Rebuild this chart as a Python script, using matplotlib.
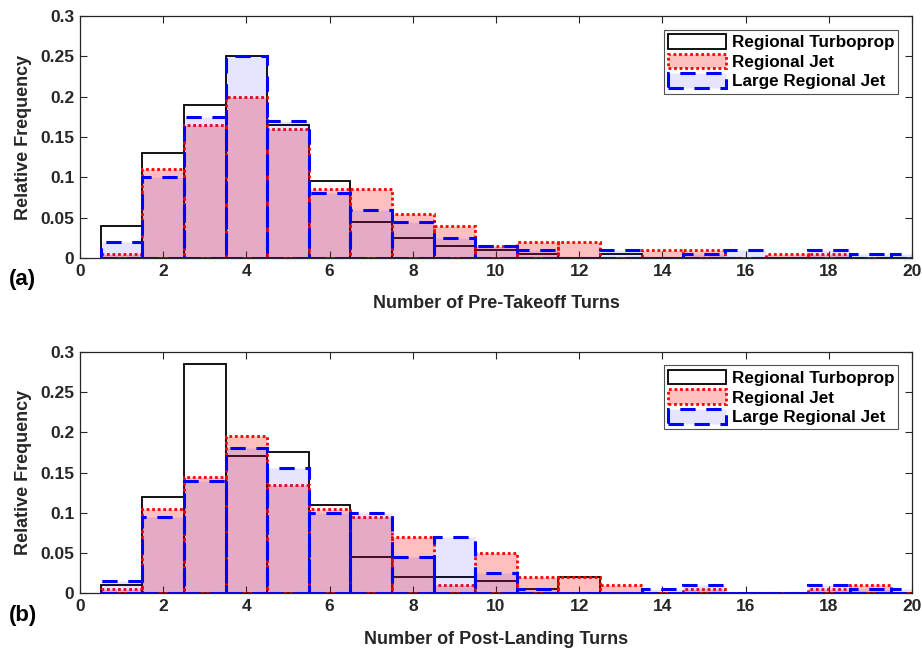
import numpy as np
import matplotlib
matplotlib.use("Agg")
import matplotlib.pyplot as plt
from matplotlib.ticker import FormatStrFormatter

plt.rcParams['font.family'] = ['Liberation Sans', 'DejaVu Sans']
plt.rcParams['font.weight'] = 'bold'

# ---------------- data ----------------
turns = np.arange(1, 21)
series_names = ["Regional Turboprop", "Regional Jet", "Large Regional Jet"]

# pre-takeoff turns (a)
pre_turboprop = [0.040, 0.130, 0.190, 0.250, 0.165, 0.095, 0.045, 0.025, 0.015, 0.010,
                 0.005, 0.000, 0.005, 0.000, 0.000, 0.000, 0.000, 0.000, 0.000, 0.000]
pre_rj = [0.005, 0.110, 0.165, 0.200, 0.160, 0.085, 0.085, 0.055, 0.040, 0.015,
          0.020, 0.020, 0.000, 0.010, 0.010, 0.000, 0.005, 0.005, 0.000, 0.000]
pre_lrj = [0.020, 0.100, 0.175, 0.250, 0.170, 0.080, 0.060, 0.045, 0.025, 0.015,
           0.010, 0.000, 0.010, 0.000, 0.005, 0.010, 0.000, 0.010, 0.005, 0.005]

# post-landing turns (b)
post_turboprop = [0.010, 0.120, 0.285, 0.170, 0.175, 0.110, 0.045, 0.020, 0.020, 0.015,
                  0.005, 0.020, 0.000, 0.000, 0.000, 0.000, 0.000, 0.000, 0.000, 0.000]
post_rj = [0.005, 0.105, 0.145, 0.195, 0.135, 0.105, 0.095, 0.070, 0.010, 0.050,
           0.020, 0.020, 0.010, 0.000, 0.005, 0.000, 0.000, 0.005, 0.010, 0.000]
post_lrj = [0.015, 0.095, 0.140, 0.180, 0.155, 0.100, 0.100, 0.045, 0.070, 0.025,
            0.005, 0.000, 0.000, 0.005, 0.010, 0.000, 0.000, 0.010, 0.005, 0.005]

xlabels = ["Number of Pre-Takeoff Turns", "Number of Post-Landing Turns"]
panel_tags = ["(a)", "(b)"]

ax_color = "#262626"

fig = plt.figure(figsize=(9.22, 6.48), dpi=100)
ax_top = fig.add_axes([0.0868, 0.6019, 0.9024, 0.3735])
ax_bot = fig.add_axes([0.0868, 0.0844, 0.9024, 0.3728])

panels = [(ax_top, pre_turboprop, pre_rj, pre_lrj),
          (ax_bot, post_turboprop, post_rj, post_lrj)]

for i, (ax, tp, rj, lrj) in enumerate(panels):
    ax.bar(turns, tp, width=1.0, facecolor="none", edgecolor="black",
           linewidth=1.3, label=series_names[0], zorder=1)
    ax.bar(turns, rj, width=1.0, facecolor=(1, 0, 0, 0.25), edgecolor="red",
           linewidth=2.0, linestyle=(0, (1, 1)), label=series_names[1], zorder=2)
    ax.bar(turns, lrj, width=1.0, facecolor=(0, 0, 1, 0.1), edgecolor="blue",
           linewidth=2.2, linestyle=(0, (5, 3.5)), label=series_names[2], zorder=3)

    ax.set_xlim(0, 20)
    ax.set_ylim(0, 0.3)
    ax.set_xticks(np.arange(0, 21, 2))
    ax.set_yticks(np.arange(0, 0.31, 0.05))
    ax.yaxis.set_major_formatter(FormatStrFormatter('%g'))
    ax.tick_params(direction="in", top=True, right=True, length=5,
                   labelsize=12.5, colors=ax_color, pad=4)
    for sp in ax.spines.values():
        sp.set_color(ax_color)
        sp.set_linewidth(0.9)
        sp.set_zorder(5)
    ax.set_ylabel("Relative Frequency", fontsize=13, fontweight="bold",
                  color=ax_color, labelpad=6)
    ax.set_xlabel(xlabels[i], fontsize=13, fontweight="bold",
                  color=ax_color, labelpad=12)
    leg = ax.legend(loc="upper right", fontsize=12.3, frameon=True, fancybox=False,
                    edgecolor="#262626", borderpad=0.25, labelspacing=0.2,
                    handlelength=3.4, handleheight=0.95, handletextpad=0.3,
                    borderaxespad=0.8)
    leg.get_frame().set_linewidth(0.8)
    for t in leg.get_texts():
        t.set_color("black")
        t.set_fontweight("bold")
    ax.text(-0.085, -0.09, panel_tags[i], transform=ax.transAxes,
            fontsize=16, fontweight="bold", color="black", ha="left", va="center")

fig.savefig("out.png", dpi=100)
